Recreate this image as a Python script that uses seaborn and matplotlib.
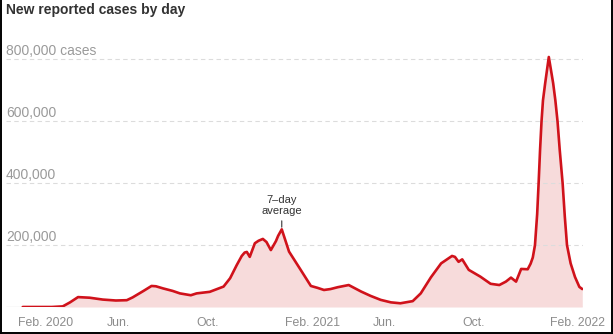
import numpy as np
import pandas as pd
import matplotlib
matplotlib.use("Agg")
import matplotlib.pyplot as plt
import seaborn as sns
from matplotlib.lines import Line2D

# ---------------- data ----------------
dates = [
    "2020-01-21", "2020-03-01", "2020-03-16", "2020-03-26", "2020-04-06", "2020-04-22",
    "2020-05-10", "2020-05-28", "2020-06-12", "2020-06-20", "2020-07-05", "2020-07-16",
    "2020-07-22", "2020-08-01", "2020-08-14", "2020-08-24", "2020-09-08", "2020-09-16",
    "2020-10-04", "2020-10-23", "2020-11-01", "2020-11-10", "2020-11-17", "2020-11-21",
    "2020-11-24", "2020-11-28", "2020-12-05", "2020-12-10", "2020-12-16", "2020-12-21",
    "2020-12-27", "2021-01-03", "2021-01-06", "2021-01-11", "2021-01-16", "2021-01-21",
    "2021-02-06", "2021-02-20", "2021-03-01", "2021-03-10", "2021-03-19", "2021-03-29",
    "2021-04-13", "2021-04-30", "2021-05-13", "2021-05-27", "2021-06-10", "2021-06-23",
    "2021-07-10", "2021-07-21", "2021-08-04", "2021-08-18", "2021-09-02", "2021-09-06",
    "2021-09-11", "2021-09-16", "2021-09-25", "2021-10-11", "2021-10-25", "2021-11-06",
    "2021-11-15", "2021-11-22", "2021-11-29", "2021-12-06", "2021-12-15", "2021-12-19",
    "2021-12-22", "2021-12-25", "2021-12-28", "2021-12-30", "2022-01-01", "2022-01-03",
    "2022-01-05", "2022-01-08", "2022-01-13", "2022-01-19", "2022-01-22", "2022-01-25",
    "2022-01-28", "2022-02-01", "2022-02-04", "2022-02-07", "2022-02-12", "2022-02-18",
    "2022-02-24", "2022-02-28",
]
cases_thousands = [
    0, 0, 2, 15, 32, 30,
    24, 21, 22, 31, 52, 68,
    67, 60, 52, 44, 38, 44,
    49, 66, 93, 135, 165, 176,
    178, 162, 206, 214, 220, 210,
    184, 213, 230, 251, 215, 179,
    120, 68, 62, 55, 58, 64,
    71, 50, 36, 23, 15, 12,
    19, 44, 96, 141, 165, 162,
    146, 154, 120, 98, 75, 71,
    82, 95, 82, 123, 122, 140,
    160, 200, 300, 400, 508, 600,
    668, 723, 808, 723, 668, 600,
    508, 400, 292, 200, 141, 97,
    65, 58,
]

ytick_values = [200000, 400000, 600000, 800000]
ytick_labels = ["200,000", "400,000", "600,000", "800,000 cases"]

xtick_dates = ["2020-02-01", "2020-06-01", "2020-10-01", "2021-02-01",
               "2021-06-01", "2021-10-01", "2022-02-01"]
xtick_months = ["Feb.", "Jun.", "Oct.", "Feb.", "Jun.", "Oct.", "Feb."]
xtick_years = ["2020", "", "", "2021", "", "", "2022"]

title = "New reported cases by day"
annot_text = "7\u2013day\naverage"
annot_date = "2021-01-11"

# ---------------- style ----------------
sns.set_style("white")
plt.rcParams["font.family"] = ["Liberation Sans", "DejaVu Sans"]

LINE = "#d0121b"
FILL = "#f7dbdb"
GRID = "#dcdcdc"
LABEL = "#9a9a9a"

df = pd.DataFrame({"date": pd.to_datetime(dates),
                   "cases": np.array(cases_thousands) * 1000})

W, H = 613, 334
fig = plt.figure(figsize=(W / 100, H / 100), dpi=100)
ax = fig.add_axes([6 / W, 27 / H, 577 / W, 263 / H])

ax.fill_between(df["date"], 0, df["cases"], color=FILL, lw=0, zorder=1)
for v in ytick_values:
    ax.axhline(v, color=GRID, lw=0.8, ls=(0, (4, 3)), zorder=2)
ax.axhline(0, color="#d0d0d0", lw=0.9, zorder=0.5)
sns.lineplot(data=df, x="date", y="cases", color=LINE, lw=1.9, ax=ax, zorder=3)

ax.set_xlim(pd.Timestamp("2019-12-29"), pd.Timestamp("2022-03-01"))
ax.set_ylim(0, 850000)
for s in ax.spines.values():
    s.set_visible(False)
ax.set_xlabel("")
ax.set_ylabel("")
ax.set_yticks([])
ax.set_xticks(pd.to_datetime(xtick_dates))
ax.set_xticklabels([""] * len(xtick_dates))
ax.tick_params(axis="x", length=3.5, width=0.8, color="#b0b0b0", direction="out", pad=0)

# y labels sitting above gridlines
for v, lab in zip(ytick_values, ytick_labels):
    ax.annotate(lab, xy=(0, v), xycoords=("axes fraction", "data"),
                xytext=(0, 4), textcoords="offset pixels",
                ha="left", va="baseline", fontsize=10, color=LABEL)

# x labels: month word centred on the tick, year hanging to the right
renderer = fig.canvas.get_renderer()
for d, m, y in zip(xtick_dates, xtick_months, xtick_years):
    tmp = fig.text(0, 0, m, fontsize=8.8)
    wm = tmp.get_window_extent(renderer=renderer).width
    tmp.remove()
    label = m if not y else f"{m} {y}"
    ax.annotate(label, xy=(pd.Timestamp(d), 0), xycoords="data",
                xytext=(-wm / 2, -16.5), textcoords="offset pixels",
                ha="left", va="center", fontsize=8.8, color="#8c8c8c")

# annotation
ax.annotate(annot_text, xy=(pd.Timestamp(annot_date), 258000), xycoords="data",
            xytext=(0, 11), textcoords="offset pixels",
            ha="center", va="bottom", fontsize=8, color="#333333",
            linespacing=1.1,
            arrowprops=dict(arrowstyle="-", lw=0.8, color="#333333",
                            shrinkA=1, shrinkB=0))

fig.text(6 / W, 1 - 3 / H, title, ha="left", va="top", fontsize=10,
         fontweight="bold", color="#333333")

# frame on left, right and bottom
for xs, ys in [([0.8 / W, 0.8 / W], [0, 1]),
               ([611.6 / W, 611.6 / W], [0, 1]),
               ([0, 1], [1.3 / H, 1.3 / H])]:
    fig.add_artist(Line2D(xs, ys, color="black", lw=1.4, transform=fig.transFigure))

fig.savefig("out.png", dpi=100)
